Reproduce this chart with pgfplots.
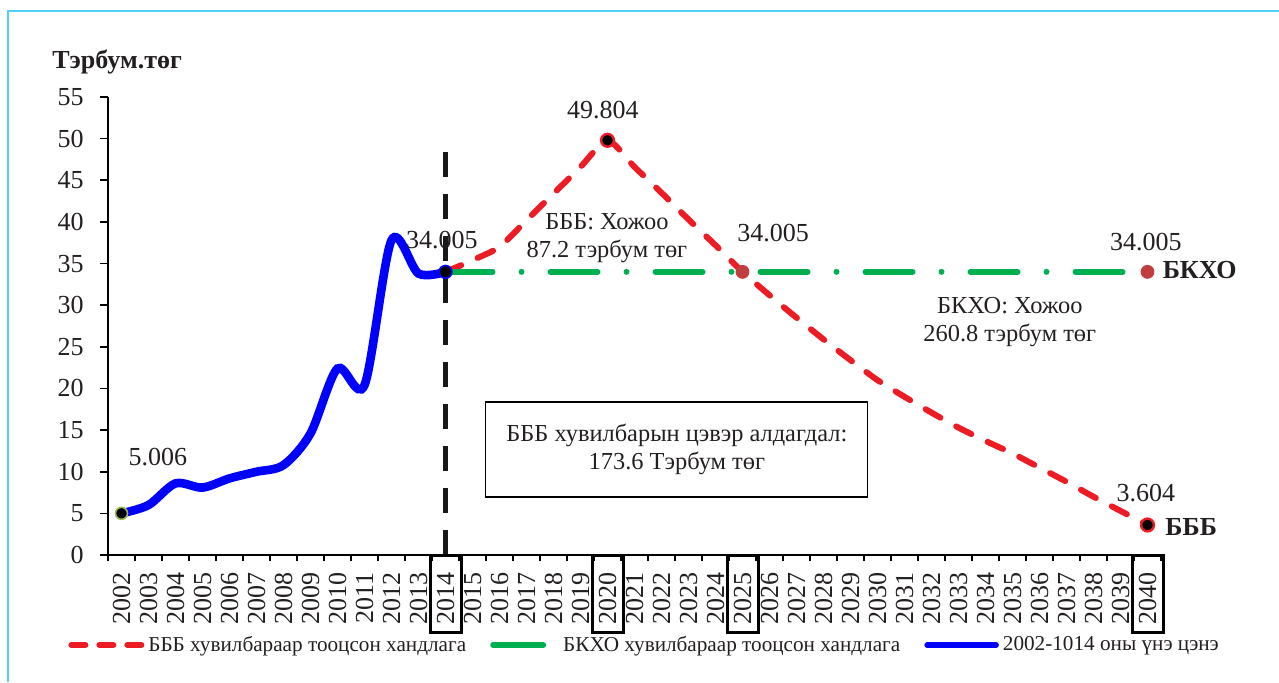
\documentclass[border=0pt]{standalone}
\usepackage{pgfplots}
\pgfplotsset{compat=1.18}
\usepackage{fontspec}
\setmainfont{Liberation Serif}

\definecolor{cRed}{RGB}{237,28,36}
\definecolor{cGreen}{RGB}{0,176,80}
\definecolor{cBlue}{RGB}{0,0,255}
\definecolor{cBorder}{RGB}{80,210,245}
\definecolor{cDot}{RGB}{192,62,62}
\definecolor{cRing}{RGB}{155,187,89}
\definecolor{cText}{RGB}{35,31,32}

\begin{document}
\begin{tikzpicture}[every node/.style={text=cText}]
\path[use as bounding box] (0,0) rectangle (639.5pt,-341pt);
\draw[cBorder, line width=1pt] (4pt,-341pt) -- (4pt,-5.5pt) -- (639.5pt,-5.5pt);
\node[anchor=west, inner sep=0pt, font=\bfseries\fontsize{13}{15}\selectfont] at (26pt,-31pt) {Тэрбум.төг};
\begin{axis}[
    at={(54pt,-277.5pt)}, anchor=south west,
    scale only axis, width=526.5pt, height=229pt,
    xmin=-0.5, xmax=38.5, ymin=0, ymax=55,
    axis x line*=bottom, axis y line*=left,
    axis line style={line width=0.8pt, black},
    ytick={0,5,...,55},
    xtick={0,...,38},
    xticklabels={2002,2003,2004,2005,2006,2007,2008,2009,2010,2011,2012,2013,2014,2015,2016,2017,2018,2019,2020,2021,2022,2023,2024,2025,2026,2027,2028,2029,2030,2031,2032,2033,2034,2035,2036,2037,2038,2039,2040},
    minor xtick={-0.5,0.5,...,38.5},
    tick align=outside,
    major tick length=4pt, minor tick length=3pt,
    tick style={line width=0.8pt, black},
    major x tick style={draw=none},
    minor x tick style={line width=0.8pt, black},
    ticklabel style={font=\fontsize{13}{15}\selectfont},
    /pgf/number format/assume math mode=true,
    xticklabel style={rotate=90, anchor=east, inner sep=0pt, xshift=-4.5pt},
    yticklabel style={anchor=east, inner sep=0pt, xshift=-8pt},
    clip=false,
    legend columns=3,
    legend cell align=left,
    legend style={at={(-0.038,-0.1965)}, anchor=west, draw=none, fill=none,
        inner sep=0pt, font=\fontsize{10.6}{12}\selectfont,
        /tikz/every even column/.append style={column sep=10pt}},
]
% vertical marker at 2014
\draw[black!90, line width=2.5pt, dash pattern=on 12.5pt off 8.5pt] (axis cs:12,0) -- (axis cs:12,49.2);

% BBB scenario
\addplot[cRed, line width=3pt, line cap=round, dash pattern=on 8.5pt off 9pt, smooth, tension=0.4,
    legend image code/.code={\draw[cRed, line width=3pt, line cap=round, dash pattern=on 7pt off 7pt] (1.5pt,0pt) -- (36.5pt,0pt);}]
coordinates {
(12,34.005)(13,35.4)(14,37.0)(15,40.2)(16,43.4)(17,46.6)(18,49.804)
(19,46.6)(20,43.5)(21,40.3)(22,37.2)(23,34.005)
(24,31.2)(25,28.5)(26,25.9)(27,23.4)(28,21.0)(29,19.0)(30,17.1)(31,15.3)
(32,13.7)(33,12.2)(34,10.5)(35,8.8)(36,7.0)(37,5.3)(38,3.604)
};
\addlegendentry{БББ хувилбараар тооцсон хандлага}

% BKHO scenario
\addplot[cGreen, line width=3pt, line cap=round, dash pattern=on 23.5pt off 14.5pt on 0pt off 14.5pt,
    legend image code/.code={\draw[cGreen, line width=3pt, line cap=round] (1.5pt,0pt) -- (26.5pt,0pt);
        \path (0pt,0pt) -- (31.5pt,0pt);}]
coordinates {(12,34.005)(38,34.005)};
\addlegendentry{БКХО хувилбараар тооцсон хандлага}

% actual 2002-2014
\addplot[cBlue, line width=4.3pt, line cap=round, smooth, tension=0.5,
    legend image code/.code={\draw[cBlue, line width=2.8pt, line cap=round] (1.5pt,0pt) -- (36pt,0pt);}]
coordinates {
(0,5.006)(1,6.0)(2,8.6)(3,8.1)(4,9.2)(5,10.0)(6,10.8)(7,14.6)(8,22.4)(9,20.4)(10,37.8)(11,33.8)(12,34.005)
};
\addlegendentry{2002-1014 оны үнэ цэнэ}

% point markers
\addplot[forget plot, only marks, mark=*, mark size=3pt, mark options={fill=black, draw=cRing, line width=0.8pt}] coordinates {(0,5.006)};
\addplot[forget plot, only marks, mark=*, mark size=3.2pt, mark options={fill=black, draw=cBlue, line width=0.8pt}] coordinates {(12,34.005)};
\addplot[forget plot, only marks, mark=*, mark size=3.2pt, mark options={fill=black, draw=cRed, line width=1.2pt}] coordinates {(18,49.804)(38,3.604)};
\addplot[forget plot, only marks, mark=*, mark size=3.2pt, mark options={fill=cDot, draw=cDot, line width=0.5pt}] coordinates {(23,34.005)(38,34.005)};

% boxes around key years
\foreach \k in {12,18,23,38} {
  \edef\tmp{\noexpand\draw[black, line width=1.5pt] (axis cs:\k-0.55,0) rectangle (axis cs:\k+0.6,-9.25);}
  \tmp
}

% value labels
\node[font=\fontsize{13}{15}\selectfont] at (axis cs:17.83,53.4) {49.804};
\node[font=\fontsize{13}{15}\selectfont] at (axis cs:11.87,37.8) {34.005};
\node[font=\fontsize{13}{15}\selectfont] at (axis cs:24.13,38.7) {34.005};
\node[font=\fontsize{13}{15}\selectfont] at (axis cs:37.94,37.6) {34.005};
\node[font=\fontsize{13}{15}\selectfont] at (axis cs:1.35,11.8) {5.006};
\node[font=\fontsize{13}{15}\selectfont] at (axis cs:37.94,7.45) {3.604};
\node[anchor=west, inner sep=0pt, font=\bfseries\fontsize{13}{15}\selectfont] at (axis cs:38.55,34.2) {БКХО};
\node[anchor=west, inner sep=0pt, font=\bfseries\fontsize{13}{15}\selectfont] at (axis cs:38.65,3.4) {БББ};

% notes
\node[align=center, font=\fontsize{12.2}{14}\selectfont] at (axis cs:17.98,38.0) {БББ: Хожоо\\87.2 тэрбум төг};
\node[align=center, font=\fontsize{12.2}{14}\selectfont] at (axis cs:32.9,28.0) {БКХО: Хожоо\\260.8 тэрбум төг};
\node[draw=black, line width=0.6pt, align=center, minimum width=191pt, minimum height=47.5pt,
    font=\fontsize{12.2}{14}\selectfont] at (axis cs:20.57,12.67) {БББ хувилбарын цэвэр алдагдал:\\173.6 Тэрбум төг};
\end{axis}
\end{tikzpicture}
\end{document}
